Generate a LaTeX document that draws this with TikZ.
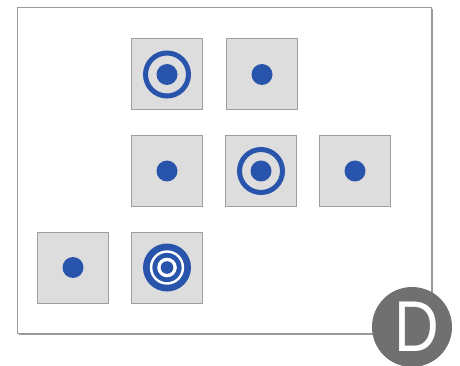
\documentclass[tikz,border=0pt]{standalone}
\usepackage{fontspec}
\newfontfamily\badgefont{Liberation Sans}
\definecolor{tgtblue}{RGB}{40,84,172}
\definecolor{cellgray}{RGB}{221,221,221}
\definecolor{cellline}{RGB}{158,158,158}
\definecolor{badgegray}{RGB}{112,112,112}
\begin{document}
\begin{tikzpicture}[x=1pt,y=-1pt,
    cell/.style={draw=cellline, fill=cellgray, line width=1pt, minimum size=71pt, inner sep=0pt},
    badge/.style={circle, fill=badgegray, minimum size=80pt, inner sep=0pt},
    badgetext/.style={text=white, inner sep=0pt, xscale=0.86,
        font=\badgefont\fontsize{72}{72}\selectfont}]
    \useasboundingbox (0,0) rectangle (460,366);
    % outer card with a little shadow
    \fill[black!40] (19,9) rectangle (433,335);
    \draw[draw=black!40, fill=white, line width=0.8pt] (17,7) rectangle (431,333);
    % the grid cells
    \node[cell] (a1) at (167,74.5) {};
    \node[cell] (a2) at (262,74.5) {};
    \node[cell] (b1) at (167,171) {};
    \node[cell] (b2) at (261,171) {};
    \node[cell] (b3) at (355,171) {};
    \node[cell] (c0) at (73,267.5) {};
    \node[cell] (c1) at (167,267.5) {};
    % plain dots
    \foreach \c in {a2,b1,b3,c0}
        \fill[tgtblue] (\c) circle (10.5);
    % targets
    \foreach \c in {a1,b2} {
        \draw[tgtblue, line width=5pt] (\c) circle (21.5);
        \fill[tgtblue] (\c) circle (10.5);
    }
    \fill[tgtblue] (c1) circle (24);
    \fill[white] (c1) circle (17.2);
    \fill[tgtblue] (c1) circle (14.6);
    \fill[white] (c1) circle (9.8);
    \fill[tgtblue] (c1) circle (6.3);
    % letter badge
    \node[badge] (tag) at (412,327) {};
    \node[badgetext] (tagD) at (417,327) {D};
\end{tikzpicture}
\end{document}
